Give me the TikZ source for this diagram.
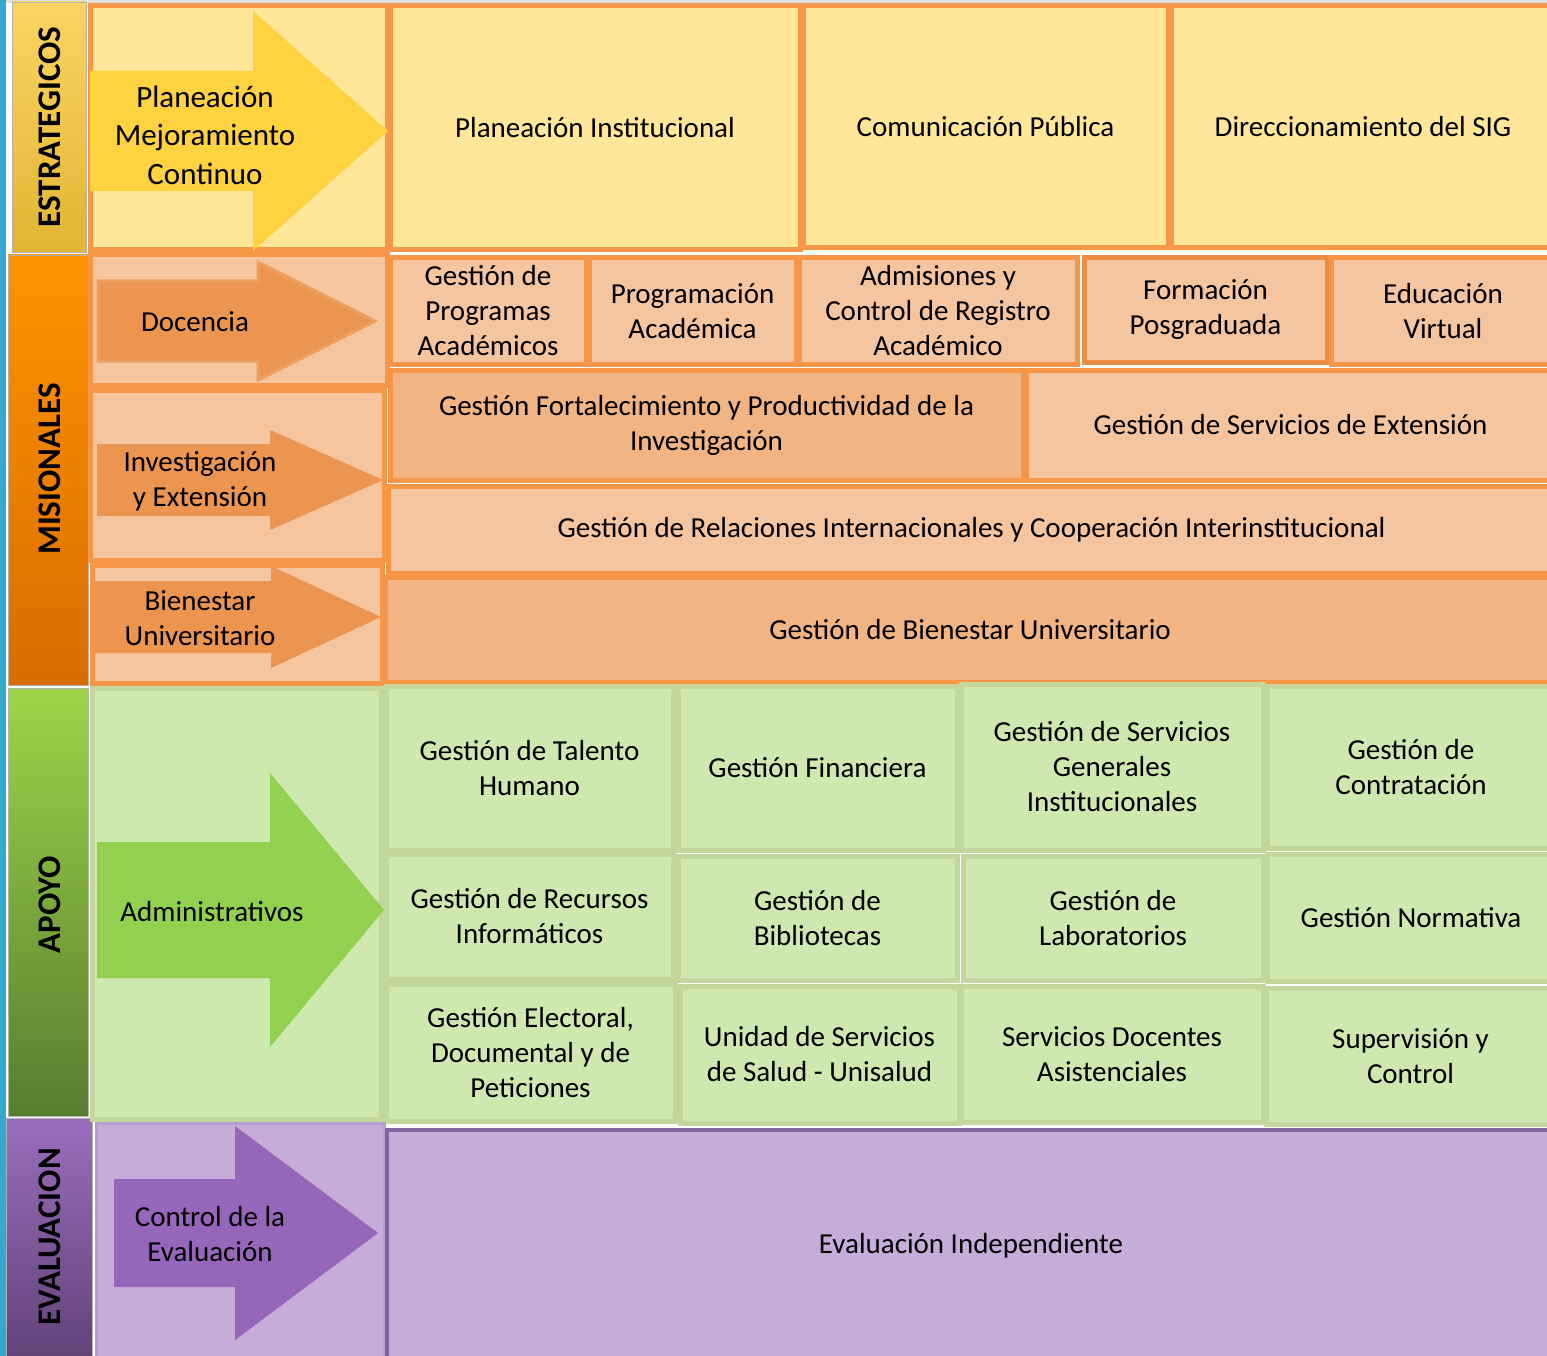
\documentclass[tikz,border=0pt]{standalone}
\usepackage{fontspec}
\setmainfont{Carlito}
\usepackage{xcolor}
\usetikzlibrary{fit}
\definecolor{yellowbg}{HTML}{FFE699}
\definecolor{yellowarrow}{HTML}{FFD23F}
\definecolor{yellowbar}{HTML}{FAC93A}
\definecolor{orangeline}{HTML}{F79646}
\definecolor{peach}{HTML}{F5C5A0}
\definecolor{peachdark}{HTML}{F1B482}
\definecolor{orangearrow}{HTML}{EB9550}
\definecolor{greenbg}{HTML}{CFE8B0}
\definecolor{greenline}{HTML}{C3D69B}
\definecolor{greenarrow}{HTML}{92D050}
\definecolor{lilac}{HTML}{C6ACD8}
\definecolor{purpleline}{HTML}{8064A2}
\definecolor{purplearrow}{HTML}{9566B9}
\definecolor{winteal}{HTML}{35A8D0}
\newcommand{\txt}{\fontsize{29}{35}\selectfont}
\newcommand{\bigtxt}{\fontsize{31}{38.5}\selectfont}
\newcommand{\bartxt}{\fontsize{33}{38}\selectfont\bfseries}
\newcommand{\procarrow}[7]{%
  \filldraw[#1] (#2,#5-#6) -- (#3,#5-#6) -- (#3,#5-#7) -- (#4,#5)
    -- (#3,#5+#7) -- (#3,#5+#6) -- (#2,#5+#6) -- cycle;}
% box from corner to corner, text in its middle
\newcommand{\cellbox}[5]{%
  \node[#1, fit={(#3) (#4)}] (#2) {};
  \node[celltext] (#2t) at (#2.center) {#5};}
\tikzset{
  cell/.style={line width=5pt, inner sep=0pt},
  cellY/.style={cell, draw=orangeline, fill=yellowbg},
  cellO/.style={cell, draw=orangeline, fill=peach},
  cellOd/.style={cell, draw=orangeline, fill=peachdark},
  cellG/.style={cell, draw=greenline, fill=greenbg},
  cellP/.style={cell, draw=purpleline, line width=4pt, fill=lilac},
  celltext/.style={align=center, font=\txt},
  bar/.style={draw=black!30, line width=0.6pt},
  barlab/.style={rotate=90, font=\bartxt, text=black},
  arrlab/.style={align=center, font=\txt},
  arrY/.style={fill=yellowarrow, draw=none},
  arrO/.style={fill=orangearrow, draw=orangearrow!80!peach, line width=3pt},
  arrOf/.style={fill=orangearrow, draw=none},
  arrG/.style={fill=greenarrow, draw=none},
  arrP/.style={fill=purplearrow, draw=none},
}
\begin{document}
\begin{tikzpicture}[x=1pt, y=-1pt]
  \useasboundingbox (0,0) rectangle (1547,1356);
  \clip (0,0) rectangle (1547,1356);
  \fill[white] (0,0) rectangle (1547,1356);
  \fill[black!12] (0,0) rectangle (1547,3);
  \fill[winteal] (0,0) rectangle (6,1356);

  % side bars
  \draw[bar, top color=yellowbar!80!white, bottom color=yellowbar!90!black] (12,2) rectangle (86,252);
  \draw[bar, top color=orange!85!yellow, bottom color=orange!85!black] (8,255) rectangle (88,685);
  \draw[bar, top color=greenarrow!90!yellow, bottom color=greenarrow!60!black] (8,688) rectangle (88,1116);
  \draw[bar, top color=purplearrow!95!white, bottom color=purplearrow!65!black] (6,1118) rectangle (92,1360);
  \node[barlab] (estr) at (50,127) {ESTRATEGICOS};
  \node[barlab] (mis) at (50,469) {MISIONALES};
  \node[barlab] (apo) at (50,905) {APOYO};
  \node[barlab] (eva) at (50,1237) {EVALUACION};

  % estrategicos
  \node[cellY, fit={(90,6) (387,250)}] (plancell) {};
  \cellbox{cellY}{pinst}{390,6}{800,250}{Planeación Institucional}
  \cellbox{cellY}{compub}{803,6}{1168,248}{Comunicación Pública}
  \cellbox{cellY}{dsig}{1171,6}{1555,248}{Direccionamiento del SIG}
  \procarrow{arrY}{90}{253}{388}{131}{60}{120}
  \node[arrlab, font=\bigtxt] (plan) at (205,135) {Planeación\\Mejoramiento\\Continuo};

  % misionales
  \node[cellO, fit={(90,255) (387,385)}] (doccell) {};
  \node[cellO, fit={(90,390) (384,560)}] (invcell) {};
  \node[cellO, fit={(92,565) (382,683)}] (biencell) {};
  \cellbox{cellO}{gpa}{390,258}{586,364}{Gestión de\\Programas\\Académicos}
  \cellbox{cellO}{pacad}{589,258}{796,364}{Programación\\Académica}
  \cellbox{cellO}{admis}{799,258}{1077,364}{Admisiones y\\Control de Registro\\Académico}
  \cellbox{cellO, draw=orangeline!95!black}{fpos}{1084,258}{1327,362}{Formación\\Posgraduada}
  \cellbox{cellO}{evirt}{1331,258}{1555,364}{Educación\\Virtual}
  \cellbox{cellOd}{gfpi}{390,370}{1023,480}{Gestión Fortalecimiento y Productividad de la\\Investigación}
  \cellbox{cellO}{gse}{1026,370}{1555,480}{Gestión de Servicios de Extensión}
  \cellbox{cellO}{gri}{388,486}{1555,573}{Gestión de Relaciones Internacionales y Cooperación Interinstitucional}
  \cellbox{cellOd}{gbu}{385,577}{1555,682}{Gestión de Bienestar Universitario}
  \procarrow{arrO}{98}{258}{375}{321}{40}{59}
  \procarrow{arrOf}{97}{270}{383}{480}{36}{50}
  \procarrow{arrOf}{95}{271}{381}{617}{36}{51}
  \node[arrlab] (doc) at (195,322) {Docencia};
  \node[arrlab] (inv) at (200,481) {Investigación\\y Extensión};
  \node[arrlab] (bien) at (200,618) {Bienestar\\Universitario};

  % apoyo
  \node[cellG, fit={(92,688) (381,1119)}] (admcell) {};
  \cellbox{cellG}{gth}{386,686}{673,850}{Gestión de Talento\\Humano}
  \cellbox{cellG}{gfin}{678,686}{957,850}{Gestión Financiera}
  \cellbox{cellG}{gsg}{961,684}{1263,850}{Gestión de Servicios\\Generales\\Institucionales}
  \cellbox{cellG}{gcon}{1267,686}{1555,848}{Gestión de\\Contratación}
  \cellbox{cellG}{grinf}{386,854}{673,979}{Gestión de Recursos\\Informáticos}
  \cellbox{cellG}{gbib}{678,856}{957,980}{Gestión de\\Bibliotecas}
  \cellbox{cellG}{glab}{963,856}{1263,980}{Gestión de\\Laboratorios}
  \cellbox{cellG}{gnor}{1267,854}{1555,981}{Gestión Normativa}
  \cellbox{cellG}{gele}{386,984}{675,1121}{Gestión Electoral,\\Documental y de\\Peticiones}
  \cellbox{cellG}{usal}{680,986}{959,1123}{Unidad de Servicios\\de Salud - Unisalud}
  \cellbox{cellG}{sda}{961,986}{1263,1122}{Servicios Docentes\\Asistenciales}
  \cellbox{cellG}{supc}{1266,988}{1555,1124}{Supervisión y\\Control}
  \procarrow{arrG}{97}{270}{384}{910}{68}{137}
  \node[arrlab] (adm) at (212,912) {Administrativos};

  % evaluacion
  \node[cell, draw=lilac!80!purpleline, line width=3pt, fill=lilac, fit={(96,1123) (384,1362)}] (ctrlcell) {};
  \cellbox{cellP}{evind}{387,1130}{1555,1362}{Evaluación Independiente}
  \procarrow{arrP}{114}{235}{378}{1233}{54}{107}
  \node[arrlab] (ctrl) at (210,1234) {Control de la\\Evaluación};
\end{tikzpicture}
\end{document}
